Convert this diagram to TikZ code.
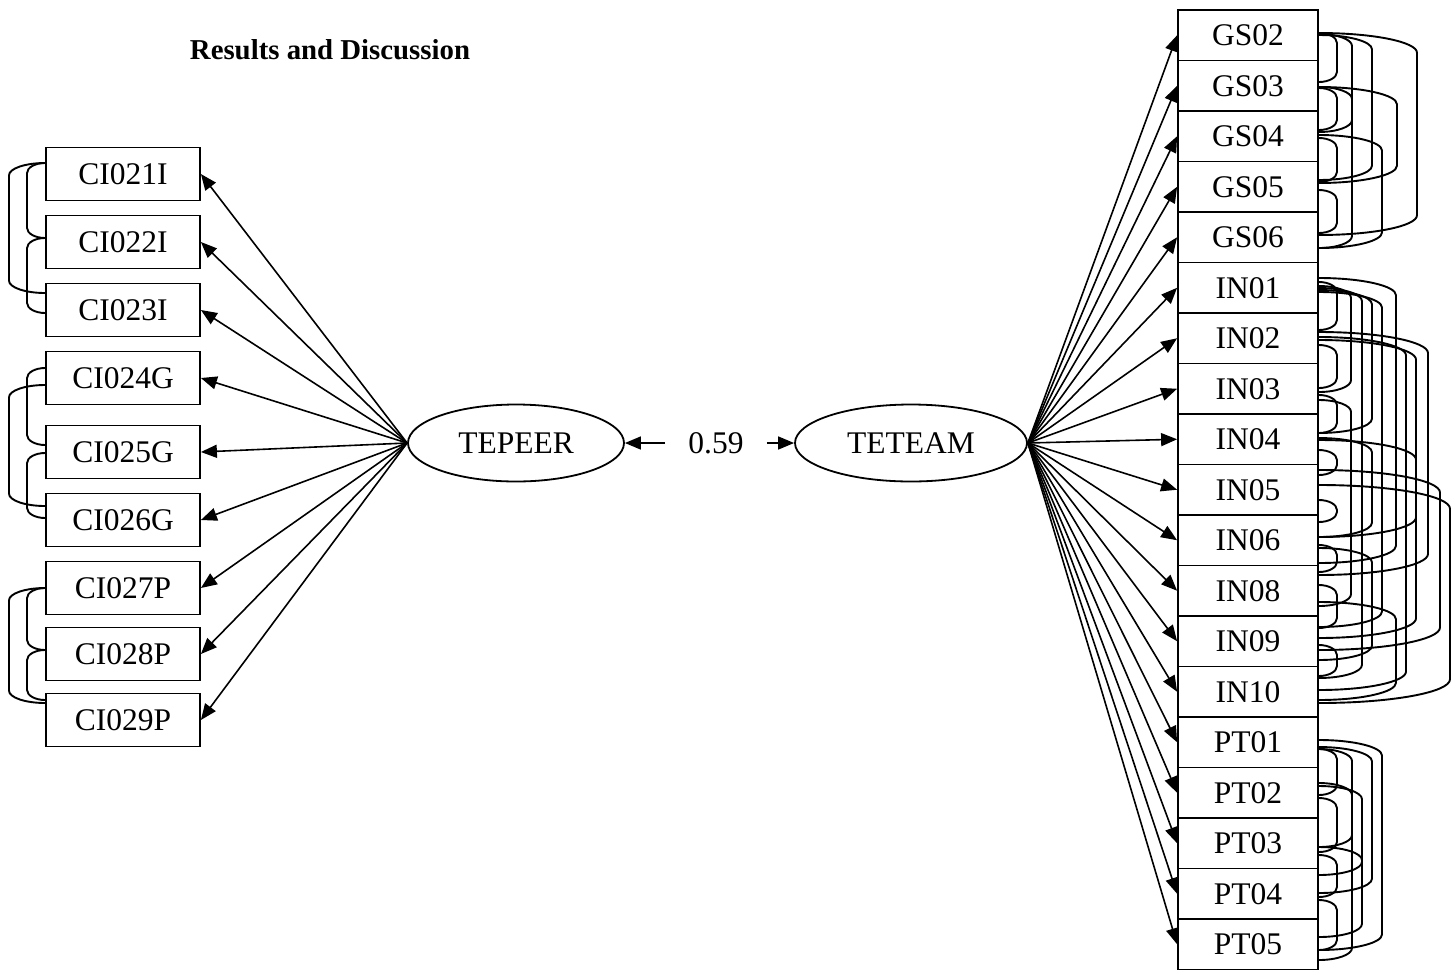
\documentclass[tikz,border=0pt]{standalone}
\usepackage{fontspec}
\setmainfont{Liberation Serif}
\usetikzlibrary{arrows.meta,shapes.geometric,calc}

% curved covariance path between two box sides, bent round a vertical column at x=#5
% (quarter-ellipse bends at both ends)
\newcommand\covpath[5]{%
  \draw[corr] let \p1=(#1 |- 0,-#2), \p2=(#3 |- 0,-#4),
      \n1={0.12*abs(\x1-#5pt)+8}, \n2={0.552*(#5pt-\x1)}, \n3={0.552*(#5pt-\x2)} in
    (\p1) .. controls (\x1+\n2*1pt,\y1) and (#5pt,\y1-0.448*\n1*1pt) .. (#5pt,\y1-\n1*1pt)
    -- (#5pt,\y2+\n1*1pt) .. controls (#5pt,\y2+0.448*\n1*1pt) and (\x2+\n3*1pt,\y2) .. (\p2);}

\begin{document}
\begin{tikzpicture}[x=1pt,y=1pt,
  lbl/.style={font=\fontsize{31.5}{34}\selectfont},
  lbox/.style={lbl,draw,line width=1.8pt,minimum width=154pt,minimum height=53pt,inner sep=0pt},
  rbox/.style={lbl,draw,line width=1.8pt,minimum width=140pt,minimum height=50.5pt,inner sep=0pt},
  latent/.style={lbl,draw,ellipse,line width=1.8pt,inner sep=0pt,minimum height=77pt},
  load/.style={line width=1.6pt,-{Triangle[length=16pt,width=13pt]}},
  corr/.style={line width=1.9pt}
]
\useasboundingbox (0,0) rectangle (1455,-972);

\node[font=\bfseries\fontsize{28.8}{32}\selectfont] (title) at (330,-50) {Results and Discussion};

% latent variables
\node[latent,minimum width=216pt] (TEPEER) at (516,-443) {TEPEER};
\node[latent,minimum width=232pt] (TETEAM) at (911,-443) {TETEAM};
\node[lbl,inner xsep=23pt,inner ysep=2pt] (r) at (716,-443) {0.59};
\draw[load] (r.west) -- (TEPEER.east);
\draw[load] (r.east) -- (TETEAM.west);

% indicators of TEPEER
\foreach \n/\y in {CI021I/174,CI022I/242,CI023I/310,CI024G/378,CI025G/452,CI026G/520,CI027P/588,CI028P/654,CI029P/720}{
  \node[lbox] (\n) at (123,-\y) {\n};
  \draw[load] (TEPEER.west) -- (\n.east);
}

% indicators of TETEAM
\foreach \n [count=\i from 0] in {GS02,GS03,GS04,GS05,GS06,IN01,IN02,IN03,IN04,IN05,IN06,IN08,IN09,IN10,PT01,PT02,PT03,PT04,PT05}{
  \node[rbox] (\n) at (1248,{-35.25-50.5*\i}) {\n};
  \draw[load] (TETEAM.east) -- (\n.west);
}

% error covariances, left block
\covpath{CI021I.west}{163}{CI023I.west}{293}{9}
\covpath{CI021I.west}{163}{CI022I.west}{238}{27}
\covpath{CI022I.west}{238}{CI023I.west}{313}{27}
\covpath{CI024G.west}{368}{CI025G.west}{445}{27}
\covpath{CI024G.west}{385}{CI026G.west}{506}{9}
\covpath{CI025G.west}{453}{CI026G.west}{518}{27}
\covpath{CI027P.west}{588}{CI029P.west}{703}{9}
\covpath{CI027P.west}{588}{CI028P.west}{650}{27}
\covpath{CI028P.west}{650}{CI029P.west}{700}{27}

% error covariances, GS items
\covpath{GS02.east}{33}{GS03.east}{82}{1337}
\covpath{GS03.east}{88}{GS04.east}{130}{1337}
\covpath{GS04.east}{138}{GS05.east}{182}{1337}
\covpath{GS05.east}{190}{GS06.east}{233}{1337}
\covpath{GS02.east}{34}{GS04.east}{132}{1352}
\covpath{GS03.east}{87}{GS06.east}{248}{1352}
\covpath{GS02.east}{35}{GS05.east}{180}{1372}
\covpath{GS03.east}{87}{GS05.east}{183}{1397}
\covpath{GS04.east}{135}{GS06.east}{248}{1382}
\covpath{GS02.east}{33}{GS06.east}{235}{1417}

% error covariances, IN items
\covpath{IN01.east}{282}{IN02.east}{330}{1337}
\covpath{IN02.east}{345}{IN03.east}{388}{1337}
\covpath{IN03.east}{395}{IN04.east}{433}{1337}
\covpath{IN04.east}{450}{IN05.east}{475}{1337}
\covpath{IN05.east}{500}{IN06.east}{522}{1337}
\covpath{IN06.east}{545}{IN08.east}{572}{1337}
\covpath{IN08.east}{585}{IN09.east}{628}{1337}
\covpath{IN09.east}{645}{IN10.east}{676}{1337}
\covpath{IN01.east}{286}{IN03.east}{392}{1351}
\covpath{IN03.east}{400}{IN08.east}{606}{1351}
\covpath{IN01.east}{288}{IN10.east}{678}{1362}
\covpath{IN01.east}{290}{IN04.east}{433}{1372}
\covpath{IN04.east}{438}{IN06.east}{537}{1372}
\covpath{IN06.east}{548}{IN09.east}{660}{1372}
\covpath{IN01.east}{292}{IN09.east}{627}{1382}
\covpath{IN01.east}{278}{IN06.east}{563}{1396}
\covpath{IN08.east}{602}{IN10.east}{700}{1396}
\covpath{IN02.east}{337}{IN10.east}{690}{1406}
\covpath{IN02.east}{340}{IN06.east}{537}{1416}
\covpath{IN04.east}{440}{IN09.east}{638}{1416}
\covpath{IN02.east}{332}{IN08.east}{575}{1428}
\covpath{IN05.east}{470}{IN09.east}{650}{1440}
\covpath{IN05.east}{485}{IN10.east}{703}{1450}

% error covariances, PT items
\covpath{PT01.east}{740}{PT05.east}{950}{1382}
\covpath{PT01.east}{747}{PT04.east}{893}{1372}
\covpath{PT01.east}{749}{PT03.east}{847}{1352}
\covpath{PT01.east}{749}{PT02.east}{795}{1337}
\covpath{PT02.east}{783}{PT05.east}{960}{1352}
\covpath{PT02.east}{786}{PT04.east}{875}{1362}
\covpath{PT02.east}{798}{PT03.east}{852}{1337}
\covpath{PT03.east}{847}{PT05.east}{937}{1362}
\covpath{PT03.east}{855}{PT04.east}{897}{1337}
\covpath{PT04.east}{900}{PT05.east}{950}{1337}
\end{tikzpicture}
\end{document}
